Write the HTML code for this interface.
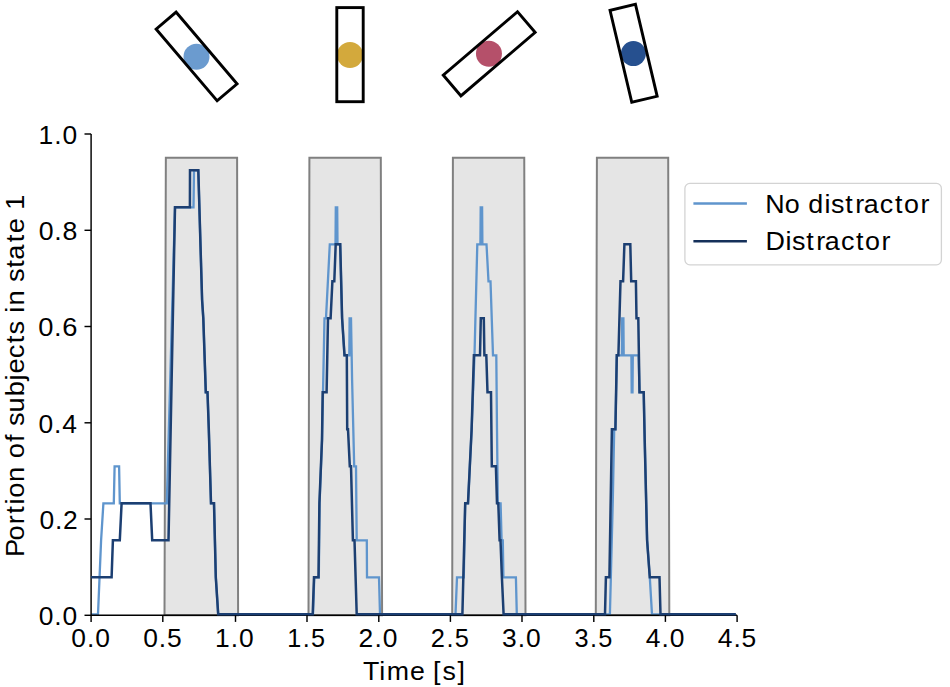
<!DOCTYPE html>
<html><head><meta charset="utf-8"><style>
html,body{margin:0;padding:0;background:#fff;}
svg{display:block;}
text{font-family:"Liberation Sans",sans-serif;fill:#000;font-size:25px;}
</style></head><body>
<svg width="950" height="687" viewBox="0 0 950 687">
<circle cx="196.5" cy="56.7" r="13" fill="#6b9bcf"/><g transform="translate(196.6,56.45) rotate(-40.4)"><rect x="-13.10" y="-47.05" width="26.2" height="94.1" fill="none" stroke="#000" stroke-width="2.9"/></g>
<circle cx="350" cy="55.0" r="13" fill="#d3a93c"/><g transform="translate(350,54.65) rotate(0)"><rect x="-13.20" y="-47.05" width="26.4" height="94.1" fill="none" stroke="#000" stroke-width="2.9"/></g>
<circle cx="488.95" cy="53.7" r="13" fill="#b5506a"/><g transform="translate(489.2,53.8) rotate(49.5)"><rect x="-13.57" y="-48.83" width="27.15" height="97.65" fill="none" stroke="#000" stroke-width="2.9"/></g>
<circle cx="633.4" cy="53.6" r="12.5" fill="#26508f"/><g transform="translate(633.6,53.3) rotate(-13.3)"><rect x="-13.05" y="-47.25" width="26.1" height="94.5" fill="none" stroke="#000" stroke-width="2.9"/></g>

<polygon points="165.85,157.8 237.1,157.8 238.1,615.3 164.5,615.3" fill="#e5e5e5" stroke="#808080" stroke-width="2"/>
<polygon points="309.4,157.8 380.8,157.8 382.1,615.3 308.5,615.3" fill="#e5e5e5" stroke="#808080" stroke-width="2"/>
<polygon points="452.9,157.8 524.25,157.8 525.5,615.3 452.2,615.3" fill="#e5e5e5" stroke="#808080" stroke-width="2"/>
<polygon points="596.9,157.8 668.2,157.8 669.3,615.3 595.8,615.3" fill="#e5e5e5" stroke="#808080" stroke-width="2"/>

<polyline points="91.1,614.3 98.0,614.3 101.1,540.3 103.4,503.3 113.8,503.3 114.6,466.3 119.1,466.3 119.8,503.3 166.8,503.3 175.0,207.3 193.5,207.3 194.0,170.3 198.3,170.3 202.1,300.0 203.3,318.3 205.8,392.3 207.5,392.3 208.8,429.3 211.0,503.3 214.0,503.3 215.8,577.3 218.2,614.3 313.0,614.3 314.3,577.3 318.8,577.3 319.6,503.3 322.0,440.0 323.0,392.3 324.5,318.3 326.0,318.3 329.8,244.3 335.5,244.3 335.8,207.3 337.2,207.3 337.5,244.3 340.2,244.3 342.1,318.3 344.5,355.3 349.3,355.3 349.6,318.3 351.0,318.3 352.1,380.0 354.2,466.3 356.0,466.3 356.7,540.3 366.8,540.3 367.0,577.3 379.0,577.3 380.0,614.3 455.5,614.3 457.0,577.3 463.8,577.3 465.2,503.3 468.0,503.3 471.6,430.0 474.5,355.3 477.3,244.3 480.4,244.3 480.7,207.3 482.1,207.3 482.4,244.3 486.5,244.3 488.5,281.3 490.5,281.3 493.0,355.3 496.3,355.3 497.0,430.0 497.8,503.3 500.6,503.3 501.6,540.3 502.8,540.3 503.4,577.3 515.9,577.3 516.8,614.3 609.9,614.3 612.8,500.0 614.2,429.3 615.4,429.3 616.8,355.3 621.9,355.3 622.2,318.3 623.4,318.3 623.7,355.3 631.4,355.3 631.7,392.3 632.5,392.3 632.8,355.3 638.6,355.3 639.5,392.3 643.7,392.3 644.7,440.0 647.1,540.3 649.8,577.3 652.0,614.3 735.8,614.3" fill="none" stroke="#5f95cd" stroke-width="2.3" stroke-linejoin="miter" stroke-linecap="butt"/>
<line x1="91.1" y1="134.0" x2="91.1" y2="615.3" stroke="#000" stroke-width="1.45"/>
<line x1="91.1" y1="615.3" x2="737.1" y2="615.3" stroke="#000" stroke-width="1.45"/>
<polyline points="91.1,577.3 111.6,577.3 112.9,540.3 119.8,540.3 121.6,503.3 150.5,503.3 152.2,540.3 168.5,540.3 175.0,207.3 189.9,207.3 190.0,170.3 198.3,170.3 202.1,300.0 203.3,318.3 205.8,392.3 207.5,392.3 208.8,429.3 211.0,503.3 214.0,503.3 215.8,577.3 218.2,614.3 312.7,614.3 314.0,577.3 318.5,577.3 319.4,503.3 322.0,440.0 322.7,392.3 326.6,392.3 328.0,318.3 330.6,318.3 332.4,281.3 334.3,281.3 335.7,244.3 340.2,244.3 342.1,318.3 344.5,355.3 346.8,355.3 347.2,429.3 348.0,429.3 349.8,466.3 351.0,466.3 352.9,540.3 354.5,540.3 356.7,614.3 462.4,614.3 465.2,503.3 468.0,503.3 471.6,430.0 473.9,355.3 480.0,355.3 480.8,318.3 483.8,318.3 484.4,355.3 486.3,355.3 487.5,392.3 491.0,392.3 491.8,466.3 495.9,466.3 497.0,503.3 498.3,503.3 499.6,540.3 500.5,540.3 501.9,577.3 503.6,614.3 605.0,614.3 605.9,577.3 609.4,577.3 611.9,429.3 615.4,429.3 616.8,355.3 618.4,355.3 620.5,281.3 623.1,281.3 624.4,244.3 630.3,244.3 631.2,281.3 635.9,281.3 636.5,318.3 638.3,318.3 639.5,392.3 643.7,392.3 644.7,440.0 647.1,540.3 649.8,577.3 659.5,577.3 660.5,614.3 735.8,614.3" fill="none" stroke="#1c3f72" stroke-width="2.5" stroke-linejoin="miter" stroke-linecap="butt"/>
<line x1="91.1" y1="615.3" x2="91.1" y2="621.9" stroke="#000" stroke-width="1.45"/>
<text transform="translate(72.34,647.00) scale(1.0561,1)" x="-0.98 13.81 21.65" y="0">0.0</text>
<line x1="162.8" y1="615.3" x2="162.8" y2="621.9" stroke="#000" stroke-width="1.45"/>
<text transform="translate(144.30,647.00) scale(1.0561,1)" x="-0.98 13.81 21.56" y="0">0.5</text>
<line x1="235.5" y1="615.3" x2="235.5" y2="621.9" stroke="#000" stroke-width="1.45"/>
<text transform="translate(217.29,647.00) scale(1.0561,1)" x="-2.15 12.77 20.61" y="0">1.0</text>
<line x1="307.0" y1="615.3" x2="307.0" y2="621.9" stroke="#000" stroke-width="1.45"/>
<text transform="translate(289.05,647.00) scale(1.0087,1)" x="-1.90 13.53 21.81" y="0">1.5</text>
<line x1="378.8" y1="615.3" x2="378.8" y2="621.9" stroke="#000" stroke-width="1.45"/>
<text transform="translate(360.13,647.00) scale(1.0561,1)" x="-1.46 13.64 21.48" y="0">2.0</text>
<line x1="450.4" y1="615.3" x2="450.4" y2="621.9" stroke="#000" stroke-width="1.45"/>
<text transform="translate(432.00,647.00) scale(1.0180,1)" x="-1.26 14.28 22.45" y="0">2.5</text>
<line x1="522.0" y1="615.3" x2="522.0" y2="621.9" stroke="#000" stroke-width="1.45"/>
<text transform="translate(503.37,647.00) scale(1.0561,1)" x="-1.19 13.57 21.41" y="0">3.0</text>
<line x1="593.8" y1="615.3" x2="593.8" y2="621.9" stroke="#000" stroke-width="1.45"/>
<text transform="translate(575.43,647.00) scale(1.0143,1)" x="-0.95 14.27 22.48" y="0">3.5</text>
<line x1="665.4" y1="615.3" x2="665.4" y2="621.9" stroke="#000" stroke-width="1.45"/>
<text transform="translate(646.43,647.00) scale(1.0562,1)" x="-0.57 14.21 22.05" y="0">4.0</text>
<line x1="737.1" y1="615.3" x2="737.1" y2="621.9" stroke="#000" stroke-width="1.45"/>
<text transform="translate(718.39,647.00) scale(1.0562,1)" x="-0.57 14.21 21.96" y="0">4.5</text>
<line x1="84.5" y1="615.3" x2="91.1" y2="615.3" stroke="#000" stroke-width="1.45"/>
<text transform="translate(39.68,625.10) scale(1.0561,1)" x="-0.98 13.81 21.65" y="0">0.0</text>
<line x1="84.5" y1="519.0" x2="91.1" y2="519.0" stroke="#000" stroke-width="1.45"/>
<text transform="translate(40.53,528.84) scale(1.0561,1)" x="-0.98 13.81 21.34" y="0">0.2</text>
<line x1="84.5" y1="422.8" x2="91.1" y2="422.8" stroke="#000" stroke-width="1.45"/>
<text transform="translate(39.42,432.58) scale(1.0562,1)" x="-0.98 13.81 21.65" y="0">0.4</text>
<line x1="84.5" y1="326.5" x2="91.1" y2="326.5" stroke="#000" stroke-width="1.45"/>
<text transform="translate(39.60,336.32) scale(1.0931,1)" x="-1.18 13.23 20.68" y="0">0.6</text>
<line x1="84.5" y1="230.3" x2="91.1" y2="230.3" stroke="#000" stroke-width="1.45"/>
<text transform="translate(39.73,240.06) scale(1.0676,1)" x="-1.04 13.63 21.34" y="0">0.8</text>
<line x1="84.5" y1="134.0" x2="91.1" y2="134.0" stroke="#000" stroke-width="1.45"/>
<text transform="translate(40.78,143.80) scale(1.0561,1)" x="-2.15 12.77 20.61" y="0">1.0</text>

<text transform="translate(363.60,679.70) scale(1.0699,1)" x="-0.49 14.66 21.56 43.40 57.30 64.90 73.76 87.83" y="0">Time [s]</text>

<text transform="translate(23.80,553.50) rotate(-90) scale(1.0905,1)" x="-3.25 11.85 26.93 36.44 44.97 51.11 65.59 79.50 87.36 102.30 109.25 116.89 129.36 144.26 158.73 165.10 178.98 192.90 200.93 213.43 220.89 227.32 241.22 248.90 262.03 269.38 285.33 293.64 307.54 315.33" y="0">Portion of subjects in state 1</text>

<rect x="684.9" y="183.4" width="256.5" height="81.4" rx="5" ry="5" fill="#fff" stroke="#d3d3d3" stroke-width="1.3"/>
<line x1="693.4" y1="203.5" x2="746.9" y2="203.5" stroke="#5f95cd" stroke-width="2.3"/>
<line x1="693.4" y1="241.3" x2="746.9" y2="241.3" stroke="#15305a" stroke-width="2.5"/>
<text transform="translate(768.00,212.50) scale(1.0747,1)" x="-2.55 15.53 29.43 37.52 52.58 58.65 71.93 81.20 89.11 104.09 118.16 126.56 141.81" y="0">No distractor</text>

<text transform="translate(768.00,250.00) scale(1.0754,1)" x="-2.25 16.30 22.38 35.66 44.92 52.84 67.82 81.89 90.28 105.54" y="0">Distractor</text>

</svg>
</body></html>
